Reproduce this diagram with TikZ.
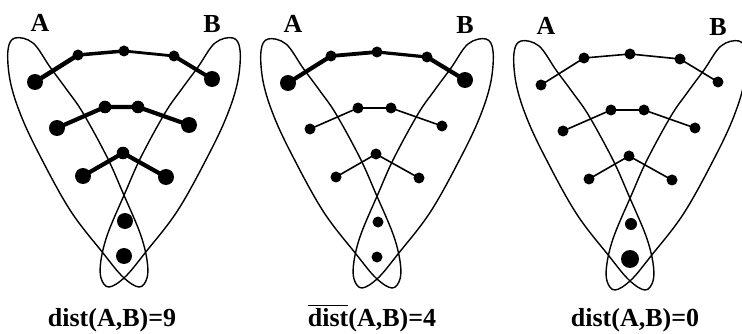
\documentclass[tikz,border=0pt]{standalone}
\usepackage{fontspec}
\setmainfont{Liberation Serif}
\newcommand\myovl[1]{\setbox0\hbox{#1}\rlap{\raisebox{\dimexpr\ht0+2pt\relax}{\rule{\wd0}{1.4pt}}}\box0}
\tikzset{
  vtx/.style={circle, fill=black, inner sep=0pt, minimum size=#1},
  loopline/.style={line width=1.4pt},
  lbl/.style={font=\fontsize{26}{30}\selectfont\bfseries, inner sep=0pt, anchor=base},
  thinchain/.style={line width=1.6pt},
}
\newcommand\panelbody{%
  \draw[loopline] plot[smooth cycle, tension=0.6] coordinates {(15,38) (33,43) (50,67) (67,90) (83,113) (107,157) (123,193) (140,233) (147,260) (147,278) (139,287) (123,277) (103,253) (70,210) (38,152) (20,113) (10,80) (8,50)};
  \draw[loopline] plot[smooth cycle, tension=0.6] coordinates {(233,38) (215,43) (198,67) (181,90) (165,113) (141,157) (125,193) (108,233) (101,260) (101,278) (109,287) (125,277) (145,253) (178,210) (210,152) (228,113) (238,80) (240,50)};
  \node[vtx=2*\rTE] (t1) at (35,82) {};
  \node[vtx=2*\rTI] (t2) at (78,55) {};
  \node[vtx=2*\rTI] (t3) at (124,51) {};
  \node[vtx=2*\rTI] (t4) at (174,56) {};
  \node[vtx=2*\rTE] (t5) at (212,79) {};
  \node[vtx=2*\rME] (m1) at (57,128) {};
  \node[vtx=2*\rMI] (m2) at (105,107) {};
  \node[vtx=2*\rMI] (m3) at (138,107) {};
  \node[vtx=2*\rME] (m4) at (189,125) {};
  \node[vtx=2*\rME] (l1) at (83,176) {};
  \node[vtx=2*\rMI] (l2) at (123,153) {};
  \node[vtx=2*\rME] (l3) at (166,177) {};
  \node[vtx=2*\rBT] (b1) at (125,221) {};
  \node[vtx=2*\rBB] (b2) at (124,256) {};
  \draw[cTa] (t1.center) -- (t2.center);
  \draw[cTb] (t2.center) -- (t3.center);
  \draw[cTc] (t3.center) -- (t4.center);
  \draw[cTd] (t4.center) -- (t5.center);
  \draw[cM] (m1.center) -- (m2.center) -- (m3.center) -- (m4.center);
  \draw[cM] (l1.center) -- (l2.center) -- (l3.center);
  \node[lbl] (la) at (40,32) {A};
  \node[lbl] (lb) at (212,33) {B};
}
\begin{document}
\begin{tikzpicture}[x=1pt,y=-1pt]
\useasboundingbox (0,0) rectangle (742,334);
% panel 1
\begin{scope}[name prefix=p-,
  cTa/.style={line width=4.5pt}, cTb/.style={line width=3.5pt},
  cTc/.style={line width=2.8pt}, cTd/.style={line width=4pt},
  cM/.style={line width=4.2pt, line join=round}]
  \def\rTE{8}\def\rTI{5.5}\def\rME{8}\def\rMI{6.3}\def\rBT{8}\def\rBB{8}
  \panelbody
\end{scope}
% panel 2
\begin{scope}[shift={(253,1)}, name prefix=q-,
  cTa/.style={line width=4.2pt}, cTb/.style={line width=3.8pt},
  cTc/.style={line width=3.2pt}, cTd/.style={line width=4.2pt},
  cM/.style={thinchain}]
  \def\rTE{8}\def\rTI{5.5}\def\rME{5.5}\def\rMI{5.5}\def\rBT{5.5}\def\rBB{5.5}
  \panelbody
\end{scope}
% panel 3
\begin{scope}[shift={(506,3)}, name prefix=r-,
  cTa/.style={thinchain}, cTb/.style={thinchain},
  cTc/.style={thinchain}, cTd/.style={thinchain},
  cM/.style={thinchain}]
  \def\rTE{5.5}\def\rTI{5.5}\def\rME{5.5}\def\rMI{5.5}\def\rBT{6}\def\rBB{9}
  \panelbody
\end{scope}
\node[lbl] (c1) at (112,326) {dist(A,B)=9};
\node[lbl] (c2) at (372,326) {\myovl{dist}(A,B)=4};
\node[lbl] (c3) at (635,326) {dist(A,B)=0};
\end{tikzpicture}
\end{document}
